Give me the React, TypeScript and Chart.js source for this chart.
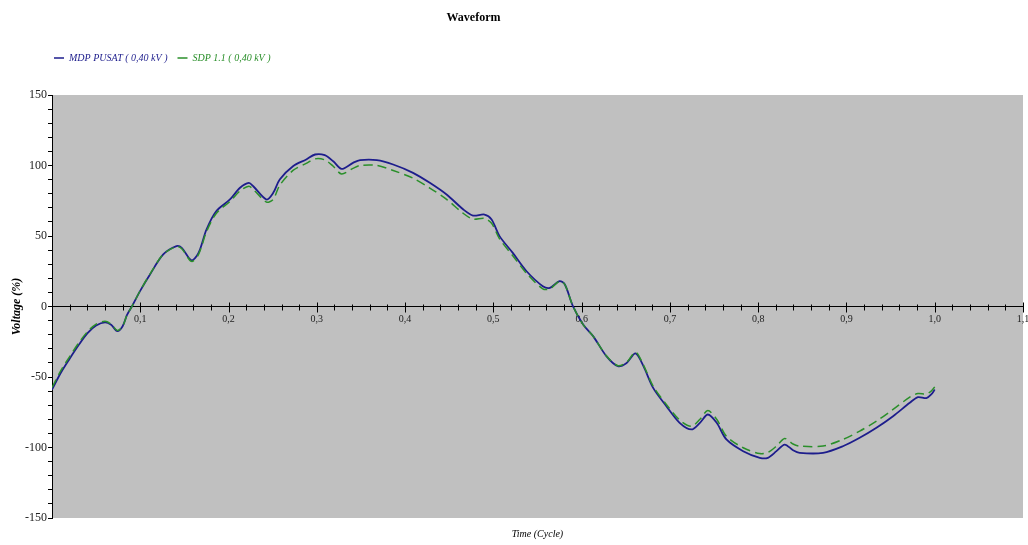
import React, { useEffect, useRef } from 'react';
import { Chart, registerables } from 'chart.js';

Chart.register(...registerables);

const TITLE = 'Waveform';
const X_TITLE = 'Time (Cycle)';
const Y_TITLE = 'Voltage (%)';
const SERIES_NAMES = ['MDP PUSAT ( 0,40 kV )', 'SDP 1.1 ( 0,40 kV )'];
const SERIES_COLORS = ['#1d1d8c', '#2a8f2a'];

const TIME = [
  0, 0.01, 0.02, 0.03, 0.04, 0.05, 0.06, 0.067, 0.074, 0.08, 0.085, 0.0905, 0.0997, 0.111, 0.126,
  0.141, 0.147, 0.158, 0.166, 0.175, 0.186, 0.2016, 0.213, 0.223, 0.228, 0.243, 0.2506, 0.258,
  0.273, 0.288, 0.298, 0.309, 0.3186, 0.328, 0.341, 0.349, 0.368, 0.3865, 0.409, 0.428, 0.447,
  0.466, 0.477, 0.49, 0.498, 0.507, 0.522, 0.5376, 0.556, 0.564, 0.575, 0.581, 0.59, 0.6017,
  0.613, 0.628, 0.641, 0.651, 0.661, 0.67, 0.681, 0.696, 0.711, 0.7244, 0.734, 0.743, 0.753,
  0.764, 0.783, 0.8018, 0.811, 0.8207, 0.83, 0.8395, 0.847, 0.8735, 0.896, 0.915, 0.934, 0.9528,
  0.9717, 0.981, 0.9906, 0.996, 1.0,
];

const MDP_PUSAT = [
  -59, -47, -37, -27.5, -19, -13.5, -11.2, -13, -17.5, -14, -6, 0, 10.9, 22.7, 36.9,
  42.8, 41.6, 32.8, 38, 54.6, 67.6, 75.9, 84.2, 87.7, 85.3, 75.9, 80.6, 90.1,
  99.5, 104.3, 107.8, 107.3, 103, 97.6, 101.9, 103.8, 103.8, 100.7, 94.8, 87.7, 79.4,
  68.8, 64.5, 65.2, 61.7, 49.9, 38, 25, 14.4, 13.2, 18, 15.6, 0.5, -12.8,
  -21, -35.2, -42.3, -40, -33.3, -42.3, -57.7, -70.7, -82.5, -87.2, -82.5, -76.6, -82.5,
  -94.3, -102.6, -107.3, -107.3, -102.6, -97.9, -101.9, -103.8, -103.8, -99.1, -93.1, -86, -77.8,
  -68.3, -64.3, -65, -62.4, -58.9,
];

const SDP_1_1 = [
  -57.5, -45.5, -35.5, -26, -18, -12.5, -10.5, -12.5, -17, -14, -6, 0, 11, 23, 37,
  42.5, 41, 32, 37, 53, 66, 74.5, 82, 85.3, 83, 74, 76, 86,
  96.5, 101.5, 104.7, 104, 99.5, 94, 98, 100, 100, 96.5, 91, 84, 76,
  66, 62, 62.5, 59, 48, 36, 23.5, 12.5, 12.5, 18, 15.6, 0.5, -12.8,
  -21, -35, -42, -39.5, -32.4, -41.5, -56.5, -69.5, -80.5, -84.9, -80, -73.8, -80,
  -92, -100.2, -104.3, -103.5, -99, -93.6, -97.5, -99, -99, -94.3, -88.4, -81.3, -73,
  -64.3, -61.7, -62, -60, -57,
];

const X_TICK_VALUES = [0.1, 0.2, 0.3, 0.4, 0.5, 0.6, 0.7, 0.8, 0.9, 1.0, 1.1];
const X_TICK_LABELS = ['0,1', '0,2', '0,3', '0,4', '0,5', '0,6', '0,7', '0,8', '0,9', '1,0', '1,1'];
const Y_TICK_VALUES = [-150, -100, -50, 0, 50, 100, 150];
const Y_TICK_LABELS = ['-150', '-100', '-50', '0', '50', '100', '150'];

const FONT = "'Liberation Serif', 'Times New Roman', serif";

const plotBg = {
  id: 'plotBg',
  beforeDraw(chart: any) {
    const { ctx, chartArea } = chart;
    ctx.save();
    ctx.fillStyle = '#c0c0c0';
    ctx.fillRect(chartArea.left, chartArea.top, chartArea.right - chartArea.left, chartArea.bottom - chartArea.top);
    ctx.restore();
  },
};

const shiftBlocks = {
  id: 'shiftBlocks',
  afterLayout(chart: any) {
    if (chart.titleBlock) chart.titleBlock.right -= 76;
    if (chart.legend) chart.legend.left += 44;
  },
};

const crossTicks = {
  id: 'crossTicks',
  beforeDatasetsDraw(chart: any) {
    const xs = chart.scales.x;
    const ys = chart.scales.y;
    const y0 = Math.round(ys.getPixelForValue(0)) + 0.5;
    const { ctx } = chart;
    ctx.save();
    ctx.strokeStyle = '#000';
    ctx.lineWidth = 1;
    ctx.beginPath();
    xs.ticks.forEach((t: any) => {
      const v = t.value;
      if (v <= 0) return;
      const major = Math.abs(v * 10 - Math.round(v * 10)) < 1e-6;
      const h = major ? 5 : 3;
      const px = Math.round(xs.getPixelForValue(v)) + 0.5;
      ctx.moveTo(px, y0 - h);
      ctx.lineTo(px, y0 + h);
    });
    ctx.stroke();
    ctx.restore();
  },
};

export default function App() {
  const ref = useRef<HTMLCanvasElement | null>(null);

  useEffect(() => {
    if (!ref.current) return;
    const chart = new Chart(ref.current, {
      type: 'line',
      data: {
        datasets: [
          {
            label: SERIES_NAMES[0],
            data: TIME.map((t, i) => ({ x: t, y: MDP_PUSAT[i] })),
            borderColor: SERIES_COLORS[0],
            backgroundColor: SERIES_COLORS[0],
            borderWidth: 1.8,
            pointRadius: 0,
            tension: 0.3,
            order: 1,
          },
          {
            label: SERIES_NAMES[1],
            data: TIME.map((t, i) => ({ x: t, y: SDP_1_1[i] })),
            borderColor: SERIES_COLORS[1],
            backgroundColor: SERIES_COLORS[1],
            borderWidth: 1.5,
            borderDash: [9, 5],
            pointRadius: 0,
            tension: 0.3,
            order: 0,
          },
        ],
      },
      options: {
        animation: false,
        responsive: true,
        maintainAspectRatio: false,
        layout: { padding: { left: 0, right: 5, top: 0, bottom: 0 } },
        plugins: {
          title: {
            display: true,
            text: TITLE,
            color: '#000',
            font: { family: FONT, size: 12, weight: 'bold' },
            padding: { top: 11, bottom: 17.6 },
          },
          subtitle: {
            display: true,
            text: X_TITLE,
            position: 'bottom',
            fullSize: false,
            color: '#000',
            font: { family: FONT, size: 10, style: 'italic' },
            padding: { top: 10, bottom: 5 },
          },
          legend: {
            display: true,
            position: 'top',
            align: 'start',
            labels: {
              boxWidth: 10,
              boxHeight: 1.5,
              padding: 10,
              font: { family: FONT, size: 10, style: 'italic' },
              generateLabels: (c: any) =>
                c.data.datasets.map((ds: any, i: number) => ({
                  text: ds.label,
                  fillStyle: ds.borderColor,
                  strokeStyle: ds.borderColor,
                  fontColor: ds.borderColor,
                  lineWidth: 0,
                  hidden: false,
                  datasetIndex: i,
                })),
            },
          },
          tooltip: { enabled: false },
        },
        scales: {
          x: {
            type: 'linear',
            min: 0,
            max: 1.1,
            position: { y: 0 },
            grid: { display: false, drawTicks: true, tickLength: 5 },
            border: { display: true, color: '#000', width: 1 },
            ticks: {
              stepSize: 0.02,
              autoSkip: false,
              maxRotation: 0,
              padding: 2,
              color: '#222',
              font: { family: FONT, size: 10 },
              callback: (v: any) => {
                const idx = X_TICK_VALUES.findIndex((t) => Math.abs(t - Number(v)) < 1e-6);
                return idx >= 0 ? X_TICK_LABELS[idx] : '';
              },
            },
            afterFit: (s: any) => {
              s.paddingLeft = 0;
              s.paddingRight = 0;
            },
          },
          xTop: {
            type: 'linear',
            position: 'top',
            min: 0,
            max: 1,
            display: true,
            grid: { display: false, drawTicks: false },
            border: { display: false },
            ticks: { display: false },
            afterFit: (s: any) => {
              s.height = 22;
            },
          },
          y: {
            type: 'linear',
            min: -150,
            max: 150,
            position: 'left',
            grid: { display: true, drawOnChartArea: false, drawTicks: true, tickLength: 4, color: '#000' },
            border: { display: true, color: '#000', width: 1 },
            title: {
              display: true,
              text: Y_TITLE,
              color: '#000',
              font: { family: FONT, size: 12, style: 'italic', weight: 'bold' },
              padding: { top: 10, bottom: 0 },
            },
            ticks: {
              stepSize: 10,
              autoSkip: false,
              padding: 1,
              color: '#222',
              font: { family: FONT, size: 12 },
              callback: (v: any) => {
                const idx = Y_TICK_VALUES.indexOf(Number(v));
                return idx >= 0 ? Y_TICK_LABELS[idx] : '';
              },
            },
            afterFit: (s: any) => {
              s.width = 52;
            },
          },
        },
      } as any,
      plugins: [plotBg, shiftBlocks, crossTicks],
    });
    return () => chart.destroy();
  }, []);

  return (
    <div style={{ position: 'absolute', left: 0, top: 0, width: 1028, height: 545, background: '#fff' }}>
      <canvas ref={ref} />
    </div>
  );
}
